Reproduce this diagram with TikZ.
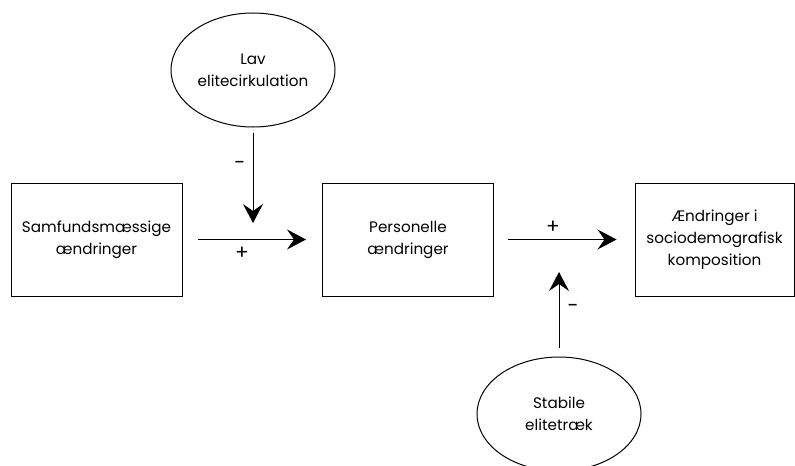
\documentclass[tikz,border=0pt]{standalone}
\usepackage{fontspec}
\setmainfont{Poppins}
\usetikzlibrary{arrows.meta}
\usetikzlibrary{shapes.geometric}
\usetikzlibrary{positioning}

\begin{document}
\begin{tikzpicture}[x=0.5pt, y=-0.5pt,
every node/.style={font=\fontsize{7.6}{11}\selectfont, align=center},
box/.style={draw, rectangle, inner sep=0pt, minimum width=85.5pt, minimum height=56.5pt},
ell/.style={draw, ellipse, inner sep=0pt, minimum width=82pt, minimum height=57pt},
pil/.style={-{Stealth[length=9.5pt, width=10pt, inset=3.5pt]}},
lbl/.style={inner sep=0pt, font=\fontsize{10}{12}\selectfont}]
\clip (0,0) rectangle (795,465);
\begin{scope}[line width=0.5pt]
\node[box] (sam) at (96.5,239.5) {Samfundsmæssige\\ændringer};
\node[box] (pers) at (408,239.5) {Personelle\\ændringer};
\node[box, minimum width=79.5pt] (komp) at (714.5,239.5) {Ændringer i\\sociodemografisk\\komposition};
\node[ell] (lav) at (253,70) {Lav\\elitecirkulation};
\node[ell] (stab) at (559,414) {Stabile\\elitetræk};
\coordinate (p1) at (253,223);
\coordinate (p2) at (559,272);
\draw[pil, shorten <=7.5pt, shorten >=8pt] (sam) -- (pers);
\draw[pil, shorten <=7pt, shorten >=9pt] (pers) -- (komp);
\draw[pil, shorten <=2.5pt] (lav) -- (p1);
\draw[pil, shorten <=4.5pt] (stab) -- (p2);
\end{scope}
\node[lbl] (plus1) at (242,253) {+};
\node[lbl] (plus2) at (553,227) {+};
\node[lbl] (minus1) at (240,165) {-};
\node[lbl] (minus2) at (573,308) {-};
\end{tikzpicture}
\end{document}
